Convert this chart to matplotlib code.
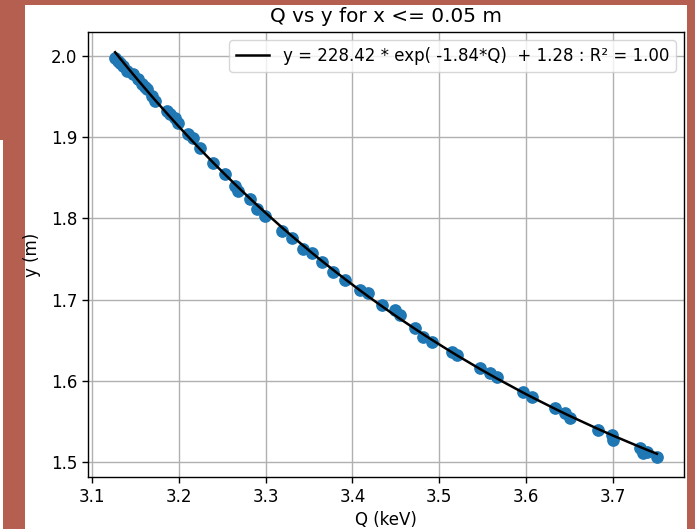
import numpy as np
import matplotlib
matplotlib.use("Agg")
import matplotlib.pyplot as plt
import matplotlib.patches as patch

# measured points (Q in keV, y in m)
q_vals = [3.1265, 3.1300, 3.1323, 3.1357, 3.1403, 3.1472, 3.1530, 3.1576, 3.1610,
          3.1634, 3.1691, 3.1726, 3.1864, 3.1899, 3.1956, 3.1991, 3.2106, 3.2164,
          3.2244, 3.2394, 3.2532, 3.2647, 3.2682, 3.2820, 3.2901, 3.2993, 3.3189,
          3.3304, 3.3431, 3.3535, 3.3650, 3.3777, 3.3915, 3.4088, 3.4180, 3.4341,
          3.4491, 3.4548, 3.4721, 3.4813, 3.4917, 3.5147, 3.5205, 3.5470, 3.5585,
          3.5666, 3.5965, 3.6069, 3.6334, 3.6449, 3.6507, 3.6829, 3.6991, 3.7002,
          3.7313, 3.7348, 3.7394, 3.7509]
y_vals = [1.9975, 1.9939, 1.9914, 1.9877, 1.9816, 1.9779, 1.9717, 1.9656, 1.9620,
          1.9595, 1.9509, 1.9447, 1.9324, 1.9287, 1.9238, 1.9177, 1.9042, 1.8993,
          1.8870, 1.8686, 1.8550, 1.8403, 1.8342, 1.8243, 1.8120, 1.8034, 1.7850,
          1.7764, 1.7629, 1.7568, 1.7457, 1.7334, 1.7236, 1.7113, 1.7076, 1.6929,
          1.6867, 1.6806, 1.6646, 1.6536, 1.6474, 1.6351, 1.6314, 1.6155, 1.6093,
          1.6044, 1.5860, 1.5799, 1.5663, 1.5602, 1.5541, 1.5393, 1.5332, 1.5270,
          1.5172, 1.5111, 1.5123, 1.5061]

# fit parameters shown in legend
fit_a, fit_b, fit_c = 228.42, -1.84, 1.28
fit_label = "y = 228.42 * exp( -1.84*Q)  + 1.28 : R\u00b2 = 1.00"

def main():
    fig = plt.figure(figsize=(6.95, 5.29), dpi=100, facecolor="#b45f50")
    # white figure area of the screenshot
    fig.patches.append(patch.Rectangle((25/695, 0), 662/695, 524/529, transform=fig.transFigure,
                                       facecolor="white", edgecolor="none", zorder=-5))
    fig.patches.append(patch.Rectangle((0, 0), 3/695, 389/529, transform=fig.transFigure,
                                       facecolor="white", edgecolor="none", zorder=-5))

    ax = fig.add_axes([88/695, 52/529, 596/695, 445/529])
    ax.set_zorder(1)
    ax.scatter(q_vals, y_vals, s=66, color="#1f77b4", zorder=2)

    qs = np.sort(np.array(q_vals))
    ax.plot(qs, fit_a*np.exp(fit_b*qs) + fit_c, color="black", lw=1.8, label=fit_label, zorder=3)

    ax.set_title("Q vs y for x <= 0.05 m", fontsize=14.4, pad=7)
    ax.set_xlabel("Q (keV)", fontsize=12)
    ax.set_ylabel("y (m)", fontsize=12, labelpad=7)
    ax.tick_params(labelsize=12, length=4.2, width=1)
    for s in ax.spines.values():
        s.set_linewidth(1.0)
    ax.grid(True, lw=1.0)
    ax.set_axisbelow(True)
    ax.legend(loc="upper right", fontsize=12)

    fig.savefig("out.png", dpi=100, facecolor=fig.get_facecolor())
    plt.close(fig)

if __name__ == '__main__': main()
